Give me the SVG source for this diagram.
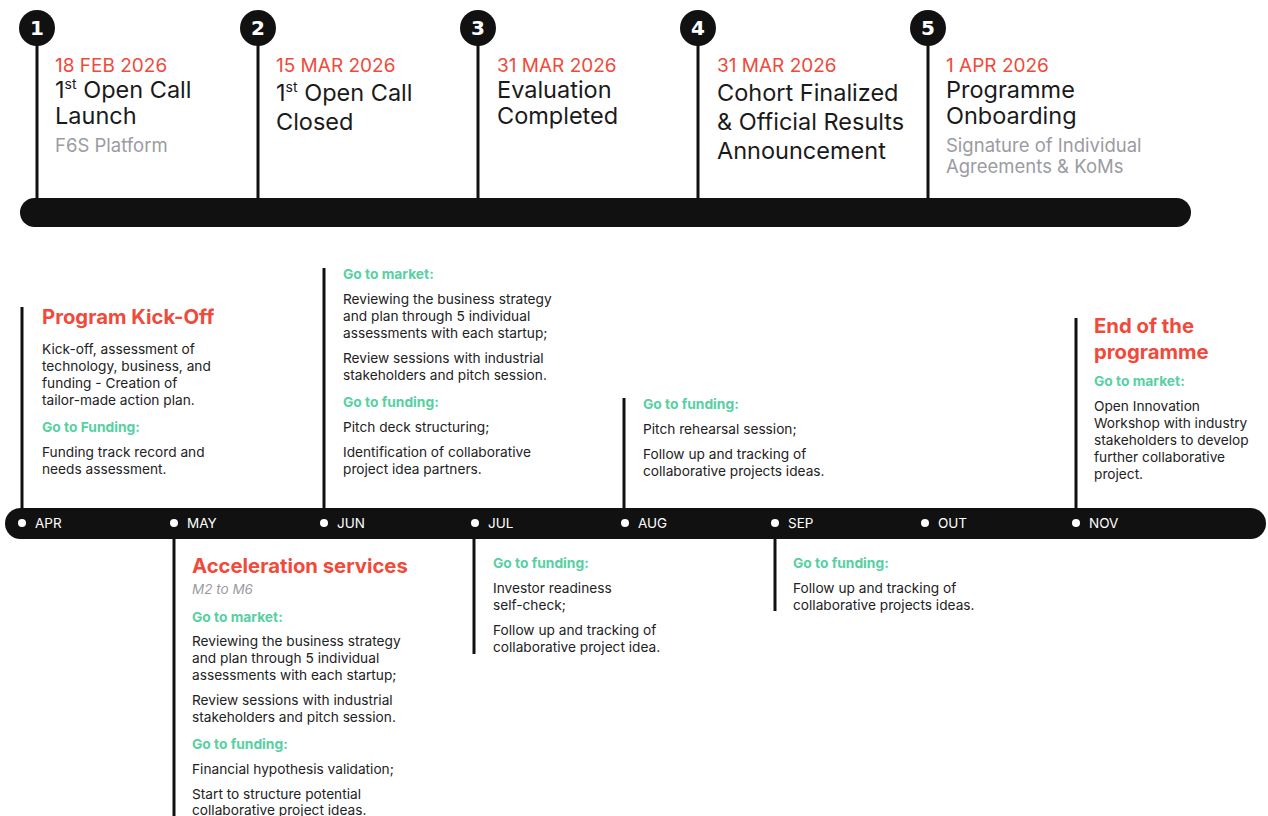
<svg xmlns="http://www.w3.org/2000/svg" width="1268" height="816" viewBox="0 0 1268 816">
<style>
text{font-family:Inter,"Liberation Sans",sans-serif}
.num{font-family:"DejaVu Sans",sans-serif;font-weight:bold;font-size:20px;fill:#fff;text-anchor:middle}
.date{font-size:19px;fill:#f04a3b}
.ttl{font-size:23.5px;fill:#1a1a1a}
.sub{font-size:18.5px;fill:#9b9ba2}
.head{font-size:20.3px;font-weight:bold;fill:#f04a3b}
.grn{font-size:13.8px;font-weight:bold;fill:#57d0a2}
.body{font-size:13.7px;fill:#222}
.mon{font-size:13.5px;fill:#fff}
.stem{stroke:#111;stroke-width:3}
.bar{fill:#111}
.dot{fill:#fff}
.ital{font-size:13.5px;font-style:italic;fill:#9b9ba2}
</style>
<rect width="1268" height="816" fill="#fff"/>
<g id="connectors">
<line class="stem" x1="37" y1="30" x2="37" y2="200"/>
<line class="stem" x1="258" y1="30" x2="258" y2="200"/>
<line class="stem" x1="478" y1="30" x2="478" y2="200"/>
<line class="stem" x1="698" y1="30" x2="698" y2="200"/>
<line class="stem" x1="928" y1="30" x2="928" y2="200"/>
<line class="stem" x1="22" y1="307" x2="22" y2="510"/>
<line class="stem" x1="174" y1="536" x2="174" y2="816"/>
<line class="stem" x1="324" y1="268" x2="324" y2="510"/>
<line class="stem" x1="474" y1="536" x2="474" y2="654"/>
<line class="stem" x1="624" y1="398" x2="624" y2="510"/>
<line class="stem" x1="775" y1="536" x2="775" y2="611"/>
<line class="stem" x1="1076" y1="318" x2="1076" y2="510"/>
</g>
<g id="top-bar"><rect class="bar" x="20" y="198" width="1171" height="29" rx="14.5"/></g>
<g id="month-bar">
<rect class="bar" x="5" y="508" width="1261" height="31" rx="15.5"/>
<circle class="dot" cx="22" cy="523" r="4"/><text class="mon" x="35" y="528">APR</text>
<circle class="dot" cx="174" cy="523" r="4"/><text class="mon" x="187" y="528">MAY</text>
<circle class="dot" cx="324" cy="523" r="4"/><text class="mon" x="337" y="528">JUN</text>
<circle class="dot" cx="475" cy="523" r="4"/><text class="mon" x="488" y="528">JUL</text>
<circle class="dot" cx="625" cy="523" r="4"/><text class="mon" x="638" y="528">AUG</text>
<circle class="dot" cx="775" cy="523" r="4"/><text class="mon" x="788" y="528">SEP</text>
<circle class="dot" cx="925" cy="523" r="4"/><text class="mon" x="938" y="528">OUT</text>
<circle class="dot" cx="1076" cy="523" r="4"/><text class="mon" x="1089" y="528">NOV</text>
</g>
<g id="m1">
<circle cx="37" cy="28" r="18" fill="#111"/><text class="num" x="37" y="35">1</text>
<text class="date" x="55" y="72">18 FEB 2026</text>
<text class="ttl" x="55" y="98">1<tspan font-size="14" dy="-9">st</tspan><tspan dy="9"> Open Call</tspan></text>
<text class="ttl" x="55" y="124">Launch</text>
<text class="sub" x="55" y="152">F6S Platform</text>
</g>
<g id="m2">
<circle cx="258" cy="28" r="18" fill="#111"/><text class="num" x="258" y="35">2</text>
<text class="date" x="276" y="72">15 MAR 2026</text>
<text class="ttl" x="276" y="101">1<tspan font-size="14" dy="-9">st</tspan><tspan dy="9"> Open Call</tspan></text>
<text class="ttl" x="276" y="130">Closed</text>
</g>
<g id="m3">
<circle cx="478" cy="28" r="18" fill="#111"/><text class="num" x="478" y="35">3</text>
<text class="date" x="497" y="72">31 MAR 2026</text>
<text class="ttl" x="497" y="98">Evaluation</text>
<text class="ttl" x="497" y="124">Completed</text>
</g>
<g id="m4">
<circle cx="698" cy="28" r="18" fill="#111"/><text class="num" x="698" y="35">4</text>
<text class="date" x="717" y="72">31 MAR 2026</text>
<text class="ttl" x="717" y="101">Cohort Finalized</text>
<text class="ttl" x="717" y="130">&amp; Official Results</text>
<text class="ttl" x="717" y="159">Announcement</text>
</g>
<g id="m5">
<circle cx="928" cy="28" r="18" fill="#111"/><text class="num" x="928" y="35">5</text>
<text class="date" x="946" y="72">1 APR 2026</text>
<text class="ttl" x="946" y="98">Programme</text>
<text class="ttl" x="946" y="124">Onboarding</text>
<text class="sub" x="946" y="152">Signature of Individual</text>
<text class="sub" x="946" y="173">Agreements &amp; KoMs</text>
</g>
<g id="apr">
<text class="head" x="42" y="324">Program Kick-Off</text>
<text class="body" x="42" y="354">Kick-off, assessment of</text>
<text class="body" x="42" y="371">technology, business, and</text>
<text class="body" x="42" y="388">funding - Creation of</text>
<text class="body" x="42" y="405">tailor-made action plan.</text>
<text class="grn" x="42" y="432">Go to Funding:</text>
<text class="body" x="42" y="457">Funding track record and</text>
<text class="body" x="42" y="474">needs assessment.</text>
</g>
<g id="jun">
<text class="grn" x="343" y="279">Go to market:</text>
<text class="body" x="343" y="304">Reviewing the business strategy</text>
<text class="body" x="343" y="321">and plan through 5 individual</text>
<text class="body" x="343" y="338">assessments with each startup;</text>
<text class="body" x="343" y="363">Review sessions with industrial</text>
<text class="body" x="343" y="380">stakeholders and pitch session.</text>
<text class="grn" x="343" y="407">Go to funding:</text>
<text class="body" x="343" y="432">Pitch deck structuring;</text>
<text class="body" x="343" y="457">Identification of collaborative</text>
<text class="body" x="343" y="474">project idea partners.</text>
</g>
<g id="aug">
<text class="grn" x="643" y="409">Go to funding:</text>
<text class="body" x="643" y="434">Pitch rehearsal session;</text>
<text class="body" x="643" y="459">Follow up and tracking of</text>
<text class="body" x="643" y="476">collaborative projects ideas.</text>
</g>
<g id="nov">
<text class="head" x="1094" y="333">End of the</text>
<text class="head" x="1094" y="359">programme</text>
<text class="grn" x="1094" y="386">Go to market:</text>
<text class="body" x="1094" y="411">Open Innovation</text>
<text class="body" x="1094" y="428">Workshop with industry</text>
<text class="body" x="1094" y="445">stakeholders to develop</text>
<text class="body" x="1094" y="462">further collaborative</text>
<text class="body" x="1094" y="479">project.</text>
</g>
<g id="may">
<text class="head" x="192" y="573">Acceleration services</text>
<text class="ital" x="192" y="594">M2 to M6</text>
<text class="grn" x="192" y="622">Go to market:</text>
<text class="body" x="192" y="646">Reviewing the business strategy</text>
<text class="body" x="192" y="663">and plan through 5 individual</text>
<text class="body" x="192" y="680">assessments with each startup;</text>
<text class="body" x="192" y="705">Review sessions with industrial</text>
<text class="body" x="192" y="722">stakeholders and pitch session.</text>
<text class="grn" x="192" y="749">Go to funding:</text>
<text class="body" x="192" y="774">Financial hypothesis validation;</text>
<text class="body" x="192" y="799">Start to structure potential</text>
<text class="body" x="192" y="815">collaborative project ideas.</text>
</g>
<g id="jul">
<text class="grn" x="493" y="568">Go to funding:</text>
<text class="body" x="493" y="593">Investor readiness</text>
<text class="body" x="493" y="610">self-check;</text>
<text class="body" x="493" y="635">Follow up and tracking of</text>
<text class="body" x="493" y="652">collaborative project idea.</text>
</g>
<g id="sep">
<text class="grn" x="793" y="568">Go to funding:</text>
<text class="body" x="793" y="593">Follow up and tracking of</text>
<text class="body" x="793" y="610">collaborative projects ideas.</text>
</g>
</svg>
